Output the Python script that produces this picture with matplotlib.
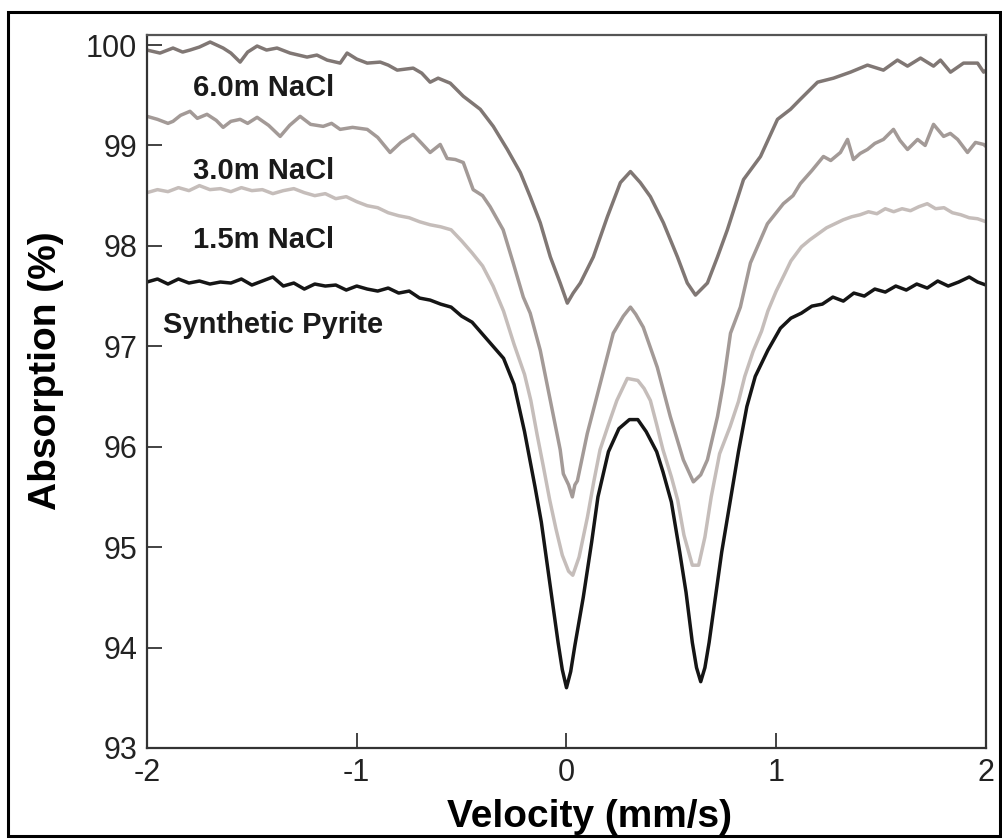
import numpy as np
import matplotlib
matplotlib.use("Agg")
import matplotlib.pyplot as plt
from matplotlib.patches import Rectangle

plt.rcParams['font.family'] = ['Liberation Sans', 'DejaVu Sans']
plt.rcParams['axes.unicode_minus'] = False

# Synthetic pyrite (black)
x_pyrite = [-2.0, -1.95, -1.9, -1.85, -1.8, -1.75, -1.7, -1.65, -1.6, -1.55,
            -1.5, -1.45, -1.4, -1.35, -1.3, -1.25, -1.2, -1.15, -1.1, -1.05,
            -1.0, -0.95, -0.9, -0.85, -0.8, -0.75, -0.7, -0.65, -0.6, -0.55,
            -0.5, -0.45, -0.4, -0.35, -0.3, -0.25, -0.2, -0.15, -0.12, -0.1,
            -0.07, -0.04, -0.02, 0.0, 0.02, 0.04, 0.08, 0.12, 0.15, 0.2,
            0.25, 0.3, 0.34, 0.38, 0.43, 0.46, 0.5, 0.54, 0.57, 0.6,
            0.62, 0.64, 0.66, 0.68, 0.71, 0.74, 0.78, 0.82, 0.86, 0.9,
            0.96, 1.02, 1.07, 1.12, 1.17, 1.22, 1.27, 1.32, 1.37, 1.42,
            1.47, 1.52, 1.57, 1.62, 1.67, 1.72, 1.77, 1.82, 1.87, 1.92,
            1.96, 2.0]
y_pyrite = [97.64, 97.67, 97.62, 97.67, 97.63, 97.65, 97.62, 97.64, 97.63, 97.67,
            97.61, 97.65, 97.69, 97.60, 97.63, 97.57, 97.62, 97.60, 97.61, 97.56,
            97.60, 97.57, 97.55, 97.58, 97.53, 97.55, 97.48, 97.46, 97.42, 97.39,
            97.30, 97.24, 97.12, 97.00, 96.88, 96.62, 96.15, 95.60, 95.25, 94.95,
            94.50, 94.05, 93.78, 93.60, 93.76, 94.02, 94.50, 95.05, 95.50, 95.95,
            96.18, 96.27, 96.27, 96.15, 95.95, 95.75, 95.45, 94.95, 94.55, 94.05,
            93.80, 93.66, 93.80, 94.05, 94.50, 94.95, 95.45, 95.95, 96.40, 96.70,
            96.96, 97.18, 97.28, 97.33, 97.40, 97.42, 97.49, 97.45, 97.53, 97.50,
            97.57, 97.54, 97.60, 97.56, 97.62, 97.58, 97.65, 97.60, 97.64, 97.69,
            97.64, 97.61]

# 1.5m NaCl
x_15 = [-2.0, -1.95, -1.9, -1.85, -1.8, -1.75, -1.7, -1.65, -1.6, -1.55,
        -1.5, -1.45, -1.4, -1.35, -1.3, -1.25, -1.2, -1.15, -1.1, -1.05,
        -1.0, -0.95, -0.9, -0.85, -0.8, -0.75, -0.7, -0.65, -0.6, -0.55,
        -0.5, -0.45, -0.4, -0.35, -0.3, -0.25, -0.2, -0.17, -0.14, -0.11,
        -0.08, -0.05, -0.02, 0.01, 0.03, 0.06, 0.1, 0.13, 0.16, 0.2,
        0.24, 0.29, 0.34, 0.37, 0.4, 0.43, 0.46, 0.5, 0.53, 0.56,
        0.58, 0.6, 0.63, 0.66, 0.69, 0.73, 0.78, 0.82, 0.85, 0.89,
        0.93, 0.96, 1.0, 1.04, 1.07, 1.12, 1.16, 1.2, 1.24, 1.28,
        1.32, 1.36, 1.4, 1.44, 1.48, 1.52, 1.56, 1.6, 1.64, 1.68,
        1.72, 1.76, 1.8, 1.84, 1.88, 1.92, 1.96, 2.0]
y_15 = [98.53, 98.56, 98.54, 98.58, 98.55, 98.60, 98.56, 98.57, 98.54, 98.58,
        98.55, 98.56, 98.52, 98.55, 98.57, 98.53, 98.50, 98.52, 98.47, 98.49,
        98.44, 98.40, 98.38, 98.33, 98.30, 98.28, 98.24, 98.21, 98.19, 98.16,
        98.05, 97.93, 97.80, 97.60, 97.35, 97.02, 96.72, 96.46, 96.12, 95.80,
        95.47, 95.18, 94.92, 94.76, 94.72, 94.90, 95.30, 95.65, 95.97, 96.22,
        96.46, 96.68, 96.66, 96.58, 96.46, 96.22, 95.97, 95.70, 95.47, 95.12,
        94.97, 94.82, 94.82, 95.10, 95.50, 95.93, 96.20, 96.45, 96.70, 96.95,
        97.15, 97.35, 97.55, 97.72, 97.85, 97.99, 98.06, 98.12, 98.18, 98.22,
        98.26, 98.29, 98.31, 98.34, 98.32, 98.37, 98.34, 98.37, 98.35, 98.39,
        98.42, 98.37, 98.38, 98.33, 98.31, 98.28, 98.27, 98.24]

# 3.0m NaCl
x_30 = [-2.0, -1.95, -1.9, -1.876, -1.84, -1.795, -1.76, -1.714, -1.67, -1.637,
        -1.6, -1.556, -1.52, -1.475, -1.42, -1.365, -1.32, -1.27, -1.22, -1.16,
        -1.12, -1.079, -1.02, -0.95, -0.9, -0.841, -0.79, -0.731, -0.69, -0.65,
        -0.602, -0.569, -0.53, -0.492, -0.445, -0.4, -0.364, -0.302, -0.254, -0.206,
        -0.173, -0.125, -0.077, -0.03, -0.015, 0.01, 0.028, 0.04, 0.052, 0.099,
        0.161, 0.223, 0.271, 0.305, 0.33, 0.366, 0.433, 0.495, 0.557, 0.605,
        0.64, 0.672, 0.72, 0.748, 0.782, 0.829, 0.877, 0.958, 1.034, 1.08,
        1.115, 1.17, 1.225, 1.26, 1.306, 1.34, 1.368, 1.4, 1.435, 1.47,
        1.511, 1.559, 1.59, 1.626, 1.674, 1.71, 1.75, 1.798, 1.83, 1.865,
        1.912, 1.95, 1.989, 2.0]
y_30 = [99.29, 99.26, 99.22, 99.24, 99.30, 99.34, 99.27, 99.31, 99.25, 99.18,
        99.24, 99.26, 99.22, 99.28, 99.20, 99.09, 99.20, 99.29, 99.21, 99.19,
        99.22, 99.16, 99.18, 99.16, 99.08, 98.93, 99.03, 99.11, 99.02, 98.93,
        99.01, 98.87, 98.86, 98.83, 98.56, 98.50, 98.39, 98.16, 97.83, 97.49,
        97.33, 96.96, 96.46, 95.97, 95.73, 95.62, 95.50, 95.62, 95.66, 96.13,
        96.63, 97.13, 97.30, 97.39, 97.32, 97.19, 96.79, 96.30, 95.87, 95.65,
        95.72, 95.87, 96.30, 96.63, 97.13, 97.39, 97.83, 98.22, 98.42, 98.50,
        98.62, 98.75, 98.89, 98.85, 98.93, 99.06, 98.86, 98.92, 98.96, 99.02,
        99.06, 99.16, 99.05, 98.96, 99.06, 99.00, 99.21, 99.09, 99.12, 99.06,
        98.93, 99.03, 99.01, 98.99]

# 6.0m NaCl
x_60 = [-2.0, -1.938, -1.876, -1.83, -1.795, -1.75, -1.699, -1.637, -1.6, -1.556,
        -1.52, -1.475, -1.43, -1.38, -1.318, -1.237, -1.19, -1.141, -1.079, -1.046,
        -1.0, -0.95, -0.888, -0.85, -0.807, -0.731, -0.69, -0.65, -0.612, -0.554,
        -0.492, -0.411, -0.349, -0.282, -0.22, -0.173, -0.125, -0.077, -0.03, 0.004,
        0.032, 0.066, 0.128, 0.195, 0.257, 0.305, 0.352, 0.4, 0.462, 0.529,
        0.576, 0.615, 0.672, 0.72, 0.767, 0.844, 0.925, 1.006, 1.068, 1.115,
        1.197, 1.273, 1.354, 1.435, 1.511, 1.578, 1.626, 1.688, 1.75, 1.783,
        1.831, 1.893, 1.96, 1.989, 2.0]
y_60 = [99.95, 99.92, 99.97, 99.93, 99.95, 99.98, 100.03, 99.97, 99.92, 99.83,
        99.93, 99.99, 99.95, 99.97, 99.92, 99.88, 99.90, 99.85, 99.82, 99.92,
        99.86, 99.82, 99.83, 99.80, 99.75, 99.77, 99.72, 99.63, 99.67, 99.62,
        99.49, 99.36, 99.19, 98.96, 98.73, 98.49, 98.23, 97.89, 97.63, 97.43,
        97.53, 97.63, 97.89, 98.29, 98.63, 98.74, 98.63, 98.49, 98.23, 97.89,
        97.63, 97.51, 97.63, 97.89, 98.16, 98.66, 98.89, 99.26, 99.36, 99.46,
        99.63, 99.67, 99.73, 99.80, 99.75, 99.85, 99.79, 99.87, 99.79, 99.85,
        99.73, 99.82, 99.82, 99.73, 99.75]

series = [
    (x_60, y_60, '#807774', '6.0m NaCl', 99.57),
    (x_30, y_30, '#a39a97', '3.0m NaCl', 98.75),
    (x_15, y_15, '#c5bdba', '1.5m NaCl', 98.06),
    (x_pyrite, y_pyrite, '#151515', 'Synthetic Pyrite', 97.21),
]

fig = plt.figure(figsize=(10.02, 8.39), dpi=100)
ax = fig.add_axes([0.1467, 0.1085, 0.8373, 0.8498])

for xs, ys, col, name, ylab in series:
    ax.plot(xs, ys, color=col, linewidth=2.5, solid_joinstyle='round')
    xlab = -1.924 if name == 'Synthetic Pyrite' else -1.78
    ax.text(xlab, ylab, name, fontsize=21, fontweight='bold', color='#1a1a1a',
            va='center', ha='left')

ax.set_xlim(-2, 2)
ax.set_ylim(93, 100.1)
ax.set_xticks([-2, -1, 0, 1, 2])
ax.set_yticks([93, 94, 95, 96, 97, 98, 99, 100])
ax.tick_params(direction='in', length=11, width=1.2, labelsize=22, pad=7,
               colors='#222222')
for s in ax.spines.values():
    s.set_linewidth(1.6)
    s.set_color('#333333')
ax.spines['top'].set_color('#555555')

ax.set_xlabel('Velocity (mm/s)', fontsize=28, fontweight='bold')
ax.set_ylabel('Absorption (%)', fontsize=28, fontweight='bold')
ax.xaxis.set_label_coords(0.528, -0.072)
ax.yaxis.set_label_coords(-0.099, 0.529)

fig.patches.append(Rectangle((0.008, 0.004), 0.990, 0.982, transform=fig.transFigure,
                             fill=False, edgecolor='black', linewidth=2.2))

fig.savefig('out.png', dpi=100)
